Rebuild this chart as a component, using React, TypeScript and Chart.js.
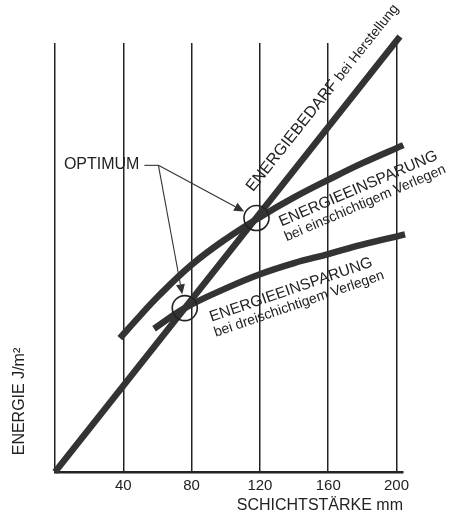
import React, { useEffect, useRef } from "react";
import { Chart, registerables } from "chart.js";

Chart.register(...registerables);

// ---- data ----
const X_TICKS = [0, 40, 80, 120, 160, 200];
const X_MIN = 0;
const X_MAX = 203.8;
const Y_MIN = 0;
const Y_MAX = 100;

// Energiebedarf bei Herstellung (straight line)
const BEDARF_X = [0, 202];
const BEDARF_Y = [0, 101.5];

// Energieeinsparung bei einschichtigem Verlegen
const EIN_X = [38, 50, 60, 80, 100, 120, 140, 160, 180, 204];
const EIN_Y = [31.2, 36.5, 40.8, 48.3, 54.3, 59.4, 64.0, 68.1, 72.0, 76.2];

// Energieeinsparung bei dreischichtigem Verlegen
const DREI_X = [58, 76, 100, 120, 140, 160, 180, 205];
const DREI_Y = [33.4, 38.2, 42.8, 46.1, 48.7, 50.8, 53.0, 55.4];

// Optimum points (intersections)
const OPT_X = [118, 76];
const OPT_Y = [59.2, 38.2];

// Texts
const X_TITLE = "SCHICHTSTÄRKE mm";
const Y_TITLE = "ENERGIE J/m²";
const OPT_LABEL = "OPTIMUM";
const BEDARF_LABEL = ["ENERGIEBEDARF", "bei Herstellung"];
const EIN_LABEL = ["ENERGIEEINSPARUNG", "bei einschichtigem Verlegen"];
const DREI_LABEL = ["ENERGIEEINSPARUNG", "bei dreischichtigem Verlegen"];

// label anchors (data coords)
const OPT_LABEL_AT = [5.2, 71.6];
const BEDARF_LABEL_AT = [116, 65.2];
const EIN_LABEL_AT = [132.6, 57.2];
const DREI_LABEL_AT = [91.7, 35.0];

const FONT = '"Liberation Sans", Arial, Helvetica, sans-serif';
const INK = "#222222";
const CURVE = "#333333";

const toPts = (xs: number[], ys: number[]) => xs.map((x, i) => ({ x, y: ys[i] }));

const annotate = {
  id: "annotate",
  afterDatasetsDraw(chart: any) {
    const { ctx, scales } = chart;
    const sx = scales.x;
    const sy = scales.y;
    const px = (v: number) => sx.getPixelForValue(v);
    const py = (v: number) => sy.getPixelForValue(v);
    ctx.save();
    ctx.fillStyle = INK;
    ctx.strokeStyle = INK;

    // circles at optimum
    ctx.lineWidth = 1.6;
    const centers = OPT_X.map((x, i) => [px(x), py(OPT_Y[i])]);
    centers.forEach(([cx, cy]) => {
      ctx.beginPath();
      ctx.arc(cx, cy, 12.5, 0, Math.PI * 2);
      ctx.stroke();
    });

    // OPTIMUM label + arrows
    ctx.font = `16px ${FONT}`;
    ctx.textAlign = "left";
    ctx.textBaseline = "middle";
    const lx = px(OPT_LABEL_AT[0]);
    const ly = py(OPT_LABEL_AT[1]);
    ctx.fillText(OPT_LABEL, lx, ly);
    const tw = ctx.measureText(OPT_LABEL).width;
    const jx = lx + tw + 19;
    const jy = ly + 0.5;
    ctx.lineWidth = 1.1;
    ctx.strokeStyle = "#333";
    ctx.beginPath();
    ctx.moveTo(lx + tw + 5, jy);
    ctx.lineTo(jx, jy);
    ctx.stroke();
    centers.forEach(([cx, cy]) => {
      let dx = cx - jx;
      let dy = cy - jy;
      const d = Math.hypot(dx, dy);
      dx /= d;
      dy /= d;
      const tx = cx - dx * 14;
      const ty = cy - dy * 14;
      const bx = tx - dx * 10;
      const by = ty - dy * 10;
      ctx.beginPath();
      ctx.moveTo(jx, jy);
      ctx.lineTo(bx, by);
      ctx.stroke();
      ctx.beginPath();
      ctx.moveTo(tx, ty);
      ctx.lineTo(bx - dy * 4.5, by + dx * 4.5);
      ctx.lineTo(bx + dy * 4.5, by - dx * 4.5);
      ctx.closePath();
      ctx.fillStyle = "#333";
      ctx.fill();
    });
    ctx.fillStyle = INK;

    // Bedarf label (single baseline, two sizes)
    ctx.save();
    ctx.translate(px(BEDARF_LABEL_AT[0]), py(BEDARF_LABEL_AT[1]));
    ctx.rotate((-51.5 * Math.PI) / 180);
    ctx.textAlign = "left";
    ctx.textBaseline = "alphabetic";
    ctx.font = `16px ${FONT}`;
    ctx.fillText(BEDARF_LABEL[0], 0, 0);
    const w1 = ctx.measureText(BEDARF_LABEL[0] + " ").width;
    ctx.font = `14px ${FONT}`;
    ctx.fillText(BEDARF_LABEL[1], w1, 0);
    ctx.restore();

    // two-line labels
    const twoLine = (at: number[], angle: number, lines: string[]) => {
      ctx.save();
      ctx.translate(px(at[0]), py(at[1]));
      ctx.rotate((angle * Math.PI) / 180);
      ctx.textBaseline = "alphabetic";
      ctx.textAlign = "left";
      ctx.font = `15.5px ${FONT}`;
      ctx.fillText(lines[0], 0, 0);
      ctx.font = `14px ${FONT}`;
      ctx.fillText(lines[1], -1, 15.5);
      ctx.restore();
    };
    twoLine(EIN_LABEL_AT, -23.3, EIN_LABEL);
    twoLine(DREI_LABEL_AT, -19, DREI_LABEL);

    // Y title
    ctx.save();
    ctx.translate(chart.chartArea.left - 35, chart.chartArea.bottom - 70.5);
    ctx.rotate(-Math.PI / 2);
    ctx.textAlign = "center";
    ctx.textBaseline = "middle";
    ctx.font = `16px ${FONT}`;
    ctx.fillText(Y_TITLE, 0, 0);
    ctx.restore();

    ctx.restore();
  },
};

export default function App() {
  const ref = useRef<HTMLCanvasElement | null>(null);

  useEffect(() => {
    if (!ref.current) return;
    const lineDs = (label: string, data: any[]) => ({
      label,
      data,
      borderColor: CURVE,
      backgroundColor: CURVE,
      borderWidth: 6.5,
      pointRadius: 0,
      pointHoverRadius: 0,
      fill: false,
      tension: 0.4,
      clip: false as any,
    });
    const chart = new Chart(ref.current, {
      type: "line",
      data: {
        datasets: [
          lineDs(BEDARF_LABEL.join(" "), toPts(BEDARF_X, BEDARF_Y)),
          lineDs(EIN_LABEL.join(" "), toPts(EIN_X, EIN_Y)),
          lineDs(DREI_LABEL.join(" "), toPts(DREI_X, DREI_Y)),
        ],
      },
      options: {
        responsive: false,
        animation: false,
        devicePixelRatio: 1,
        layout: { padding: { left: 55, right: 58, top: 43, bottom: 0 } },
        plugins: {
          legend: { display: false },
          tooltip: { enabled: false },
        },
        events: [],
        scales: {
          x: {
            type: "linear",
            min: X_MIN,
            max: X_MAX,
            afterBuildTicks: (scale: any) => {
              scale.ticks = X_TICKS.map((v) => ({ value: v }));
            },
            afterFit: (scale: any) => {
              scale.height = 43;
            },
            grid: {
              color: INK,
              lineWidth: 1.5,
              drawTicks: false,
            },
            border: { display: true, color: INK, width: 2.5 },
            ticks: {
              color: INK,
              font: { family: FONT, size: 15 },
              padding: 5,
              maxRotation: 0,
              autoSkip: false,
              callback: (v: any) => (v === 0 ? "" : String(v)),
            },
            title: {
              display: true,
              text: X_TITLE,
              align: "end",
              color: INK,
              font: { family: FONT, size: 16 },
              padding: { top: 0, bottom: 0 },
            },
          },
          y: {
            type: "linear",
            display: false,
            min: Y_MIN,
            max: Y_MAX,
          },
        },
      },
      plugins: [annotate],
    });
    return () => chart.destroy();
  }, []);

  return (
    <div style={{ position: "absolute", left: 0, top: 0, width: 461, height: 515, background: "#fff" }}>
      <canvas ref={ref} width={461} height={515} style={{ display: "block" }} />
    </div>
  );
}
